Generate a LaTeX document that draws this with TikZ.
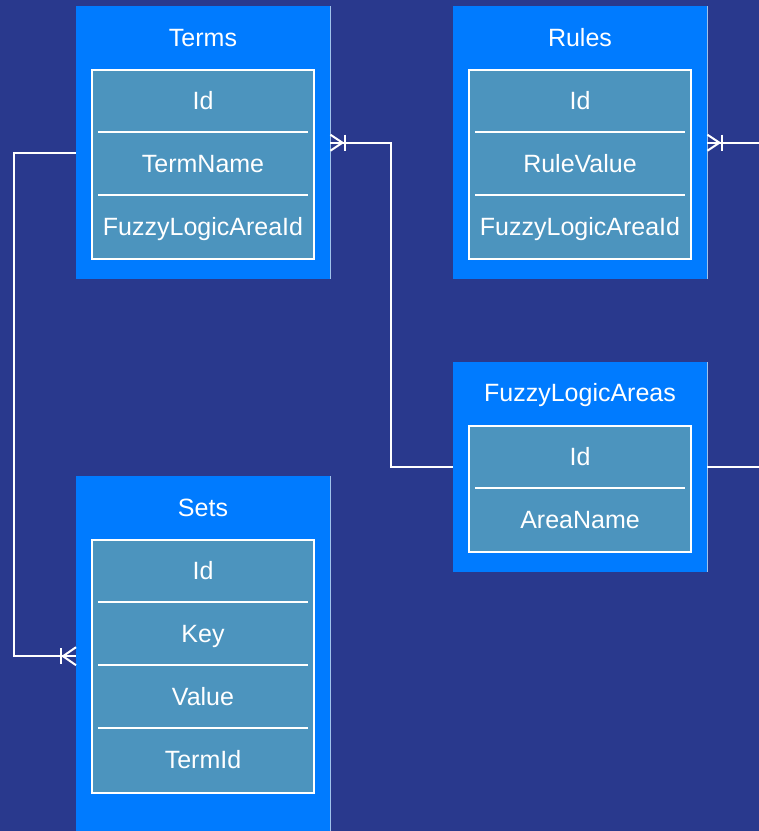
\documentclass[tikz,border=0pt]{standalone}
\usepackage{fontspec}
\setmainfont{Liberation Sans}
\usetikzlibrary{calc}
\definecolor{bg}{RGB}{41,57,141}
\definecolor{outerblue}{RGB}{0,123,255}
\definecolor{innerblue}{RGB}{76,148,190}
\definecolor{edgelight}{RGB}{160,195,235}
\tikzset{
  entity/.style={fill=outerblue, draw=none, minimum width=254pt, anchor=north west, inner sep=0pt},
  body/.style={fill=innerblue, draw=white, line width=2pt, minimum width=222pt, anchor=north, inner sep=0pt},
  titletext/.style={text=white, font=\fontsize{25}{29}\selectfont, text height=18pt, text depth=0pt, inner sep=0pt},
  field/.style={text=white, font=\fontsize{25}{29}\selectfont, text height=18pt, text depth=0pt, minimum height=63pt, minimum width=222pt, inner sep=0pt, anchor=north},
  sepline/.style={draw=white, line width=2pt},
  edgeline/.style={draw=edgelight, line width=1pt},
  conn/.style={draw=white, line width=2pt},
}
\begin{document}
\begin{tikzpicture}[x=1pt,y=-1pt]
\fill[bg] (0,0) rectangle (759,831);
\useasboundingbox (0,0) rectangle (759,831);
\clip (0,0) rectangle (759,831);

% ---------- Terms ----------
\node[entity, minimum height=273pt] (terms) at (76,6) {};
\draw[edgeline] (terms.north east) -- (terms.south east);
\node[titletext] (termsT) at (203,37) {Terms};
\node[body, minimum height=189pt] (termsB) at (203,69) {};
\node[field] (termsF1) at (203,69) {Id};
\node[field] (termsF2) at (203,132) {TermName};
\node[field] (termsF3) at (203,195) {FuzzyLogicAreaId};
\draw[sepline] ($(termsF1.south west)+(6,0)$) -- ($(termsF1.south east)+(-6,0)$);
\draw[sepline] ($(termsF2.south west)+(6,0)$) -- ($(termsF2.south east)+(-6,0)$);

% ---------- Rules ----------
\node[entity, minimum height=273pt] (rules) at (453,6) {};
\draw[edgeline] (rules.north east) -- (rules.south east);
\node[titletext] (rulesT) at (580,37) {Rules};
\node[body, minimum height=189pt] (rulesB) at (580,69) {};
\node[field] (rulesF1) at (580,69) {Id};
\node[field] (rulesF2) at (580,132) {RuleValue};
\node[field] (rulesF3) at (580,195) {FuzzyLogicAreaId};
\draw[sepline] ($(rulesF1.south west)+(6,0)$) -- ($(rulesF1.south east)+(-6,0)$);
\draw[sepline] ($(rulesF2.south west)+(6,0)$) -- ($(rulesF2.south east)+(-6,0)$);

% ---------- FuzzyLogicAreas ----------
\node[entity, minimum height=210pt] (fla) at (453,362) {};
\draw[edgeline] (fla.north east) -- (fla.south east);
\node[titletext] (flaT) at (580,392.5) {FuzzyLogicAreas};
\node[body, minimum height=126pt] (flaB) at (580,425) {};
\node[field] (flaF1) at (580,425) {Id};
\node[field] (flaF2) at (580,488) {AreaName};
\draw[sepline] ($(flaF1.south west)+(6,0)$) -- ($(flaF1.south east)+(-6,0)$);

% ---------- Sets ----------
\node[entity, minimum height=360pt] (sets) at (76,476) {};
\draw[edgeline] (sets.north east) -- (sets.south east);
\node[titletext] (setsT) at (203,507) {Sets};
\node[body, minimum height=253pt] (setsB) at (203,539) {};
\node[field] (setsF1) at (203,539) {Id};
\node[field] (setsF2) at (203,602) {Key};
\node[field] (setsF3) at (203,665) {Value};
\node[field] (setsF4) at (203,728) {TermId};
\draw[sepline] ($(setsF1.south west)+(6,0)$) -- ($(setsF1.south east)+(-6,0)$);
\draw[sepline] ($(setsF2.south west)+(6,0)$) -- ($(setsF2.south east)+(-6,0)$);
\draw[sepline] ($(setsF3.south west)+(6,0)$) -- ($(setsF3.south east)+(-6,0)$);

% ---------- Connectors ----------
% Terms -> Sets
\coordinate (tl) at ($(terms.west)+(0,10)$);
\draw[conn] (tl) -- ($(tl)+(-62,0)$) |- (sets.west);
\draw[conn] ($(sets.west)+(-13,0)$) -- ($(sets.west)+(0,-9)$);
\draw[conn] ($(sets.west)+(-13,0)$) -- ($(sets.west)+(0,9)$);
\draw[conn] ($(sets.west)+(-15,-8)$) -- ($(sets.west)+(-15,8)$);

% Terms -> FuzzyLogicAreas
\draw[conn] (terms.east) -- ($(terms.east)+(61,0)$) |- (fla.west);
\draw[conn] ($(terms.east)+(12,0)$) -- ($(terms.east)+(0,-8)$);
\draw[conn] ($(terms.east)+(12,0)$) -- ($(terms.east)+(0,8)$);
\draw[conn] ($(terms.east)+(15,-8)$) -- ($(terms.east)+(15,8)$);

% Rules -> off canvas
\coordinate (rulesOut) at ($(rules.east)+(60,0)$);
\draw[conn] (rules.east) -- (rulesOut);
\draw[conn] ($(rules.east)+(12,0)$) -- ($(rules.east)+(0,-8)$);
\draw[conn] ($(rules.east)+(12,0)$) -- ($(rules.east)+(0,8)$);
\draw[conn] ($(rules.east)+(15,-8)$) -- ($(rules.east)+(15,8)$);

% FuzzyLogicAreas -> off canvas
\coordinate (flaOut) at ($(fla.east)+(60,0)$);
\draw[conn] (fla.east) -- (flaOut);
\end{tikzpicture}
\end{document}
